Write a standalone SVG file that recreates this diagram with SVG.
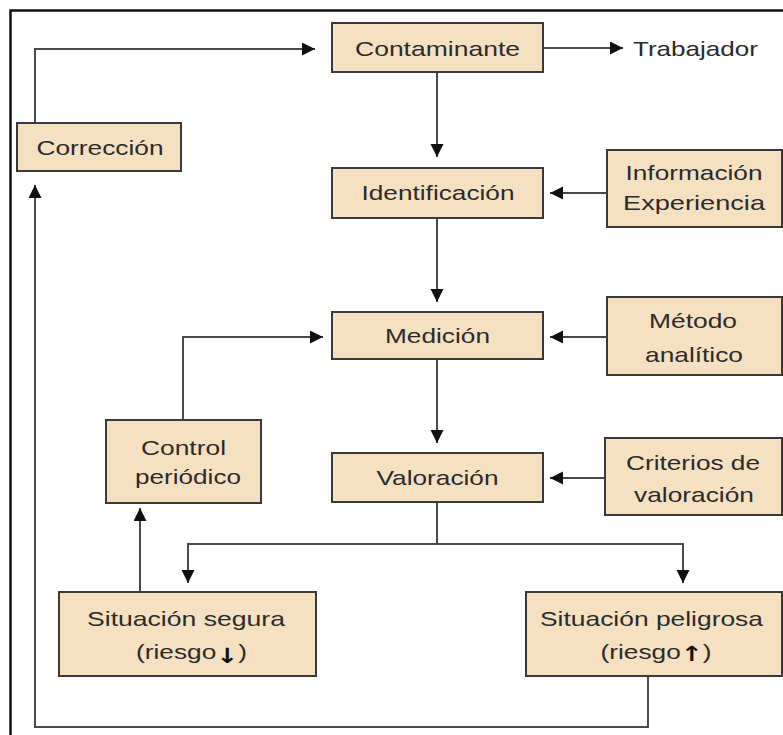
<svg xmlns="http://www.w3.org/2000/svg" width="783" height="735" viewBox="0 0 783 735">
<style>
.box{fill:#f5e1c2;stroke:#3a3a3a;stroke-width:2}
.t{font-family:"Liberation Sans",Arial,sans-serif;font-size:21px;fill:#2b2b2b;text-anchor:middle}
.ar{font-family:"DejaVu Sans",sans-serif;font-size:21px;font-weight:bold;fill:#111}
.c{fill:none;stroke:#4a4a4a;stroke-width:2}
.a{fill:none;stroke:#4a4a4a;stroke-width:2;marker-end:url(#ah)}
</style>
<defs>
<marker id="ah" markerUnits="userSpaceOnUse" markerWidth="14" markerHeight="14" refX="13" refY="6.5" orient="auto">
<path d="M0,0 L13,6.5 L0,13 Z" fill="#111"/>
</marker>
</defs>
<rect width="783" height="735" fill="#fff"/>
<path d="M10.5 735 V10.5 H783" fill="none" stroke="#111" stroke-width="2.5"/>

<g id="connectors">
<path class="a" d="M543 48 H623"/>
<path class="a" d="M437 72 V157"/>
<path class="a" d="M607 193 H550"/>
<path class="a" d="M437 218 V302"/>
<path class="a" d="M607 337 H550"/>
<path class="a" d="M437 359 V443"/>
<path class="a" d="M605 478 H550"/>
<path class="c" d="M437 502 V544"/>
<path class="a" d="M437 544 H188 V583"/>
<path class="a" d="M437 544 H683 V583"/>
<path class="a" d="M140 592 V508"/>
<path class="a" d="M183 420 V337 H323"/>
<path class="a" d="M648 676 V727 H35 V185"/>
<path class="a" d="M35 123 V49 H315"/>
</g>

<g id="contaminante">
<rect class="box" x="332" y="23" width="211" height="49"/>
<text class="t" x="437.5" y="56" textLength="165" lengthAdjust="spacingAndGlyphs">Contaminante</text>
</g>
<g id="trabajador">
<text class="t" x="695.5" y="56" textLength="125" lengthAdjust="spacingAndGlyphs">Trabajador</text>
</g>
<g id="correccion">
<rect class="box" x="17" y="123" width="164" height="48"/>
<text class="t" x="100" y="155" textLength="127" lengthAdjust="spacingAndGlyphs">Corrección</text>
</g>
<g id="identificacion">
<rect class="box" x="332" y="168" width="211" height="50"/>
<text class="t" x="438" y="200" textLength="153" lengthAdjust="spacingAndGlyphs">Identificación</text>
</g>
<g id="informacion">
<rect class="box" x="607" y="150" width="175" height="77"/>
<text class="t" x="694" y="180" textLength="137" lengthAdjust="spacingAndGlyphs">Información</text>
<text class="t" x="694" y="210" textLength="142" lengthAdjust="spacingAndGlyphs">Experiencia</text>
</g>
<g id="medicion">
<rect class="box" x="332" y="312" width="211" height="47"/>
<text class="t" x="437.5" y="343" textLength="105" lengthAdjust="spacingAndGlyphs">Medición</text>
</g>
<g id="metodo">
<rect class="box" x="607" y="297" width="175" height="78"/>
<text class="t" x="693" y="328" textLength="88" lengthAdjust="spacingAndGlyphs">Método</text>
<text class="t" x="694" y="362" textLength="98" lengthAdjust="spacingAndGlyphs">analítico</text>
</g>
<g id="valoracion">
<rect class="box" x="332" y="453" width="211" height="49"/>
<text class="t" x="437.5" y="485" textLength="122" lengthAdjust="spacingAndGlyphs">Valoración</text>
</g>
<g id="criterios">
<rect class="box" x="605" y="438" width="177" height="77"/>
<text class="t" x="693" y="470" textLength="134" lengthAdjust="spacingAndGlyphs">Criterios de</text>
<text class="t" x="694" y="502" textLength="120" lengthAdjust="spacingAndGlyphs">valoración</text>
</g>
<g id="control">
<rect class="box" x="106" y="420" width="155" height="83"/>
<text class="t" x="183.5" y="455" textLength="85" lengthAdjust="spacingAndGlyphs">Control</text>
<text class="t" x="188" y="484" textLength="106" lengthAdjust="spacingAndGlyphs">periódico</text>
</g>
<g id="segura">
<rect class="box" x="59" y="592" width="257" height="84"/>
<text class="t" x="186" y="626" textLength="198" lengthAdjust="spacingAndGlyphs">Situación segura</text>
<text class="t" transform="translate(191.5 659) scale(1.25 1)">(riesgo<tspan class="ar" dy="4">↓</tspan><tspan dy="-4">)</tspan></text>
</g>
<g id="peligrosa">
<rect class="box" x="526" y="592" width="256" height="84"/>
<text class="t" x="651.5" y="626" textLength="223" lengthAdjust="spacingAndGlyphs">Situación peligrosa</text>
<text class="t" transform="translate(656 659) scale(1.25 1)">(riesgo<tspan class="ar" dy="2">↑</tspan><tspan dy="-2">)</tspan></text>
</g>
</svg>
